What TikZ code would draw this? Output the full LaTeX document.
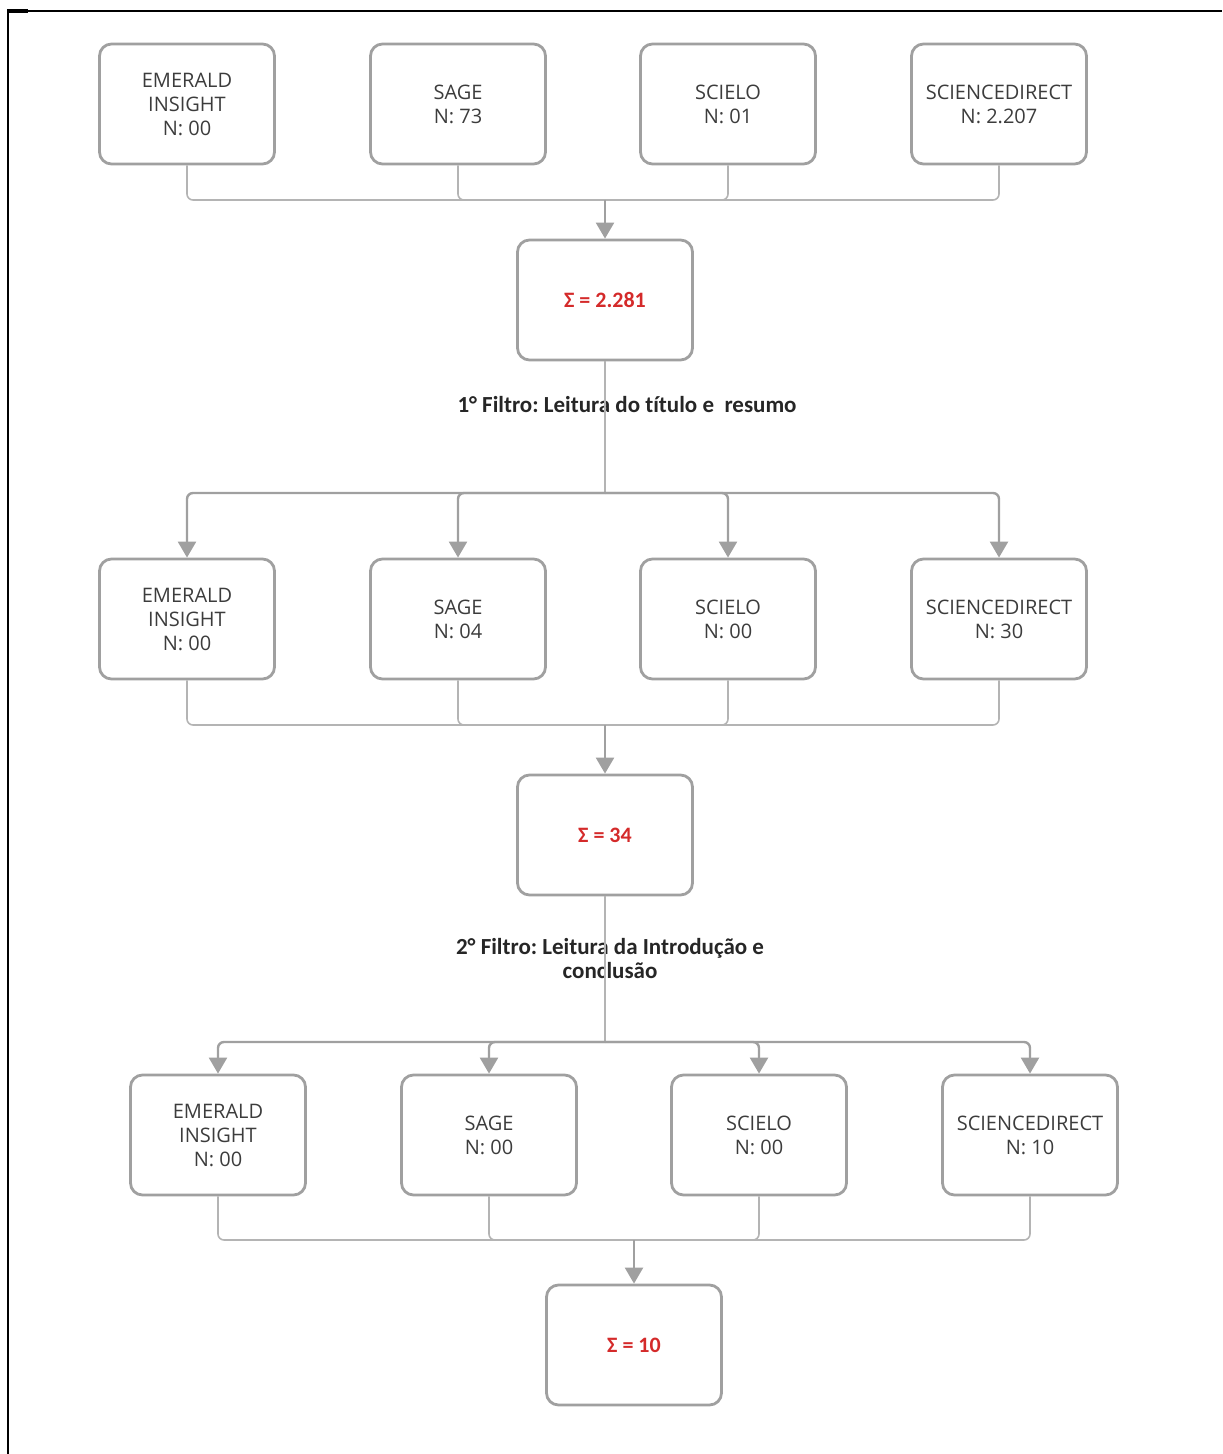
\documentclass[tikz,border=0pt]{standalone}
\usepackage{xcolor}
\usepackage{fontspec}
\setmainfont{Open Sans}
\newfontfamily\labelfont[Ligatures={NoCommon,TeX}]{Carlito}
\usepackage{tikz}
\usetikzlibrary{arrows.meta}
\frenchspacing
\definecolor{boxgray}{HTML}{A0A0A0}
\definecolor{linegray}{HTML}{B4B4B4}
\definecolor{sumred}{HTML}{D42A2A}
\definecolor{txtgray}{HTML}{3C3C3C}
\tikzset{
    dbnode/.style = {rectangle, rounded corners=6pt, draw=boxgray, line width=1.4pt, align=center, text=txtgray, font=\fontsize{10}{12}\selectfont, minimum width=87.5pt, minimum height=60pt, inner sep=0pt},
    sumnode/.style = {dbnode, text=sumred, font=\labelfont\bfseries\fontsize{11}{13}\selectfont},
    filtro/.style = {align=center, font=\labelfont\bfseries\fontsize{11.5}{12}\selectfont, text=black!85},
}

\begin{document}
\begin{tikzpicture}[
	x=0.5pt, y=-0.5pt
]
\tikzset{
    edgec/.style = {-, draw=linegray, line width=0.8pt, rounded corners=3pt},
    edgea/.style = {-{Triangle[width=9pt,length=8pt]}, draw=boxgray, line width=1.2pt, rounded corners=3pt}
}
\useasboundingbox (0,0) rectangle (1222,1454);
\draw[line width=1pt] (8,1454) -- (8,11) -- (1222,11);
\draw[line width=2pt] (7,11) -- (28,11);
% primeira busca
\node[dbnode] at (187,104) (e1) {EMERALD\\INSIGHT\\N: 00};
\node[dbnode] at (458,104) (s1) {SAGE\\N: 73};
\node[dbnode] at (728,104) (c1) {SCIELO\\N: 01};
\node[dbnode] at (999,104) (d1) {SCIENCEDIRECT\\N: 2.207};
\coordinate (m1) at (605,200);
\node[sumnode] at (605,300) (t1) {Σ = 2.281};
%
\draw[edgec] (e1.south) |- (m1);
\draw[edgec] (s1.south) |- (m1);
\draw[edgec] (c1.south) |- (m1);
\draw[edgec] (d1.south) |- (m1);
\draw[edgea] (m1) -- (t1.north);
% primeiro filtro
\node[filtro] at (627,405) (f1) {1° Filtro: Leitura do título e \ resumo};
\coordinate (b1) at (605,493);
\node[dbnode] at (187,619) (e2) {EMERALD\\INSIGHT\\N: 00};
\node[dbnode] at (458,619) (s2) {SAGE\\N: 04};
\node[dbnode] at (728,619) (c2) {SCIELO\\N: 00};
\node[dbnode] at (999,619) (d2) {SCIENCEDIRECT\\N: 30};
\coordinate (m2) at (605,725);
\node[sumnode] at (605,835) (t2) {Σ = 34};
%
\draw[edgec] (t1.south) -- (b1);
\draw[edgea] (b1) -| (e2.north);
\draw[edgea] (b1) -| (s2.north);
\draw[edgea] (b1) -| (c2.north);
\draw[edgea] (b1) -| (d2.north);
\draw[edgec] (e2.south) |- (m2);
\draw[edgec] (s2.south) |- (m2);
\draw[edgec] (c2.south) |- (m2);
\draw[edgec] (d2.south) |- (m2);
\draw[edgea] (m2) -- (t2.north);
% segundo filtro
\node[filtro] at (610,959) (f2) {2° Filtro: Leitura da Introdução e\\conclusão};
\coordinate (b2) at (605,1042);
\node[dbnode] at (218,1135) (e3) {EMERALD\\INSIGHT\\N: 00};
\node[dbnode] at (489,1135) (s3) {SAGE\\N: 00};
\node[dbnode] at (759,1135) (c3) {SCIELO\\N: 00};
\node[dbnode] at (1030,1135) (d3) {SCIENCEDIRECT\\N: 10};
\coordinate (m3) at (634,1240);
\node[sumnode] at (634,1345) (t3) {Σ = 10};
%
\draw[edgec] (t2.south) -- (b2);
\draw[edgea] (b2) -| (e3.north);
\draw[edgea] (b2) -| (s3.north);
\draw[edgea] (b2) -| (c3.north);
\draw[edgea] (b2) -| (d3.north);
\draw[edgec] (e3.south) |- (m3);
\draw[edgec] (s3.south) |- (m3);
\draw[edgec] (c3.south) |- (m3);
\draw[edgec] (d3.south) |- (m3);
\draw[edgea] (m3) -- (t3.north);
\end{tikzpicture}
\end{document}
